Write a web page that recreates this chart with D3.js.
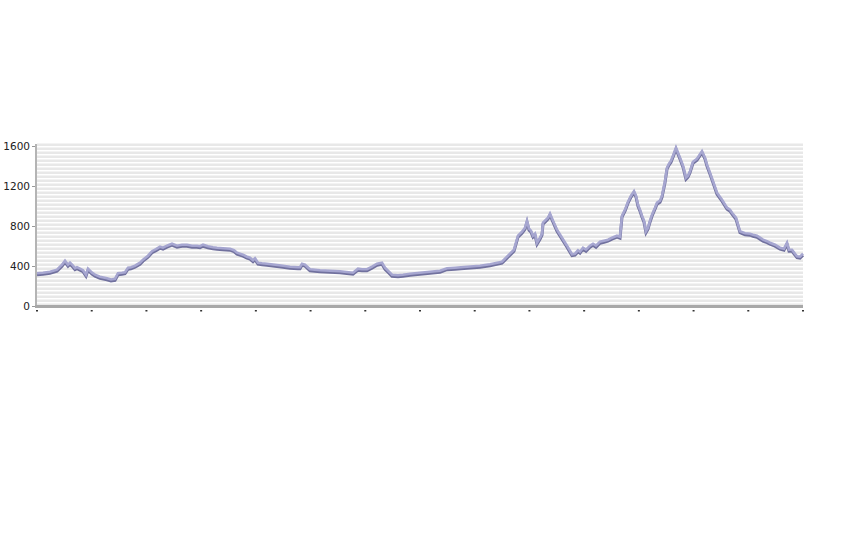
<!DOCTYPE html>
<html><head><meta charset="utf-8">
<script src="https://cdn.jsdelivr.net/npm/d3@7/dist/d3.min.js"></script>
<style>body{margin:0;background:#fff}svg{display:block}</style>
</head><body><svg id="c" width="864" height="540"></svg>
<script>
// Data: day offset and value
const days = [0,6,13,20,25,28,31,33,36,38,40,43,46,49,51,55,58,63,70,74,78,81,85,88,91,94,98,103,106,111,115,119,123,126,130,135,140,145,150,155,160,163,166,171,176,180,186,193,197,200,206,210,213,216,218,221,225,230,238,246,253,261,263,265,268,273,283,293,303,316,321,325,330,335,340,345,348,352,355,361,366,373,383,393,403,410,418,430,443,453,465,469,473,477,481,485,488,490,492,494,496,498,500,503,505,506,509,511,513,516,520,525,530,535,538,541,543,546,549,553,556,559,563,567,571,575,580,583,585,588,591,594,597,599,601,603,605,607,609,611,613,615,618,620,623,625,628,630,632,634,636,639,641,643,646,649,651,653,656,660,665,668,670,673,676,680,685,690,693,695,699,703,708,713,716,720,723,726,730,733,738,743,747,750,752,755,758,760,763,766];
const values = [325,330,340,360,410,450,410,430,400,375,385,370,355,310,370,330,310,290,275,262,268,325,330,335,380,385,400,430,460,500,545,565,590,580,600,620,600,610,610,600,600,595,610,595,585,580,575,570,555,530,510,490,480,455,475,430,425,420,410,400,390,385,385,420,410,365,355,350,345,330,370,365,365,390,420,430,380,340,310,305,310,320,330,340,350,375,380,390,400,415,440,480,520,560,700,740,780,850,770,750,700,720,630,680,720,830,860,880,920,850,760,680,600,515,520,555,540,580,560,600,620,600,640,650,660,680,700,690,900,960,1040,1100,1145,1100,1010,960,900,850,745,780,850,910,980,1030,1050,1100,1245,1380,1420,1450,1500,1580,1530,1480,1400,1280,1300,1345,1440,1470,1545,1480,1410,1330,1245,1130,1060,980,960,930,880,745,725,720,710,700,680,660,645,630,610,580,570,630,560,560,520,495,490,520];
const yTicks = [0,400,800,1200,1600];
const xTickCount = 15;

const svg = d3.select("#c");
const L = 37, R = 803, T = 146, B = 306;
const x = d3.scaleLinear().domain([0, 766]).range([L, R]);
const y = d3.scaleLinear().domain([0, 1600]).range([B, T]);

// background stripes
const g = svg.append("g");
g.append("rect").attr("x", L).attr("y", T - 2).attr("width", R - L).attr("height", B - T + 2).attr("fill", "#ffffff");
const bands = d3.range(0, 1640, 40);
g.selectAll("rect.band").data(bands).enter().append("rect").attr("class", "band")
  .attr("x", L).attr("width", R - L)
  .attr("y", d => y(d + 20) - 0.5).attr("height", y(0) - y(20) + 0.5)
  .attr("fill", "#e8e8e8");

// line
const pts = days.map((d, i) => [d, values[i]]);
const line = d3.line().x(d => x(d[0])).y(d => y(d[1]));
svg.append("path").datum(pts).attr("d", line).attr("fill", "none")
  .attr("stroke", "#71719e").attr("stroke-width", 3).attr("transform", "translate(0,1.2)");
svg.append("path").datum(pts).attr("d", line).attr("fill", "none")
  .attr("stroke", "#a6a6d0").attr("stroke-width", 2.6).attr("transform", "translate(0,-0.3)");

// axes bars
svg.append("rect").attr("x", L - 2).attr("y", T - 2).attr("width", 2).attr("height", B - T + 4).attr("fill", "#b4b4b4");
svg.append("rect").attr("x", L - 2).attr("y", B - 1).attr("width", R - L + 2).attr("height", 3).attr("fill", "#a8a8a8");

// y axis
const ya = d3.axisLeft(y).tickValues(yTicks).tickFormat(d3.format("d")).tickSize(3).tickPadding(2);
const yg = svg.append("g").attr("transform", `translate(${L - 2},0)`).call(ya);
yg.select(".domain").remove();
yg.selectAll(".tick line").attr("stroke", "#999");
yg.selectAll("text").attr("font-family", "DejaVu Sans, sans-serif").attr("font-size", 10.5).attr("fill", "#222");

// x axis ticks (labels clipped in original)
const xTicks = d3.range(xTickCount).map(i => i * 766 / (xTickCount - 1));
svg.append("g").selectAll("rect").data(xTicks).enter().append("rect")
  .attr("x", d => x(d) - 1).attr("y", 310).attr("width", 2).attr("height", 1.5).attr("fill", "#333");
</script></body></html>
